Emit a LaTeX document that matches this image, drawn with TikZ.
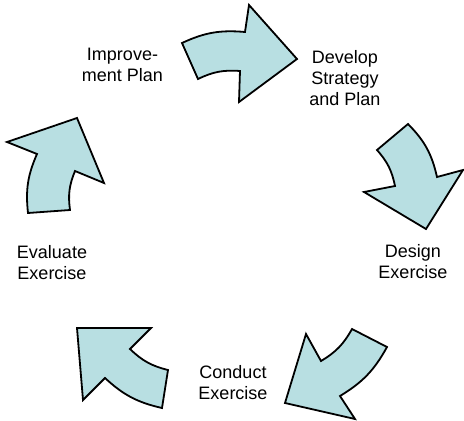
\documentclass[tikz,border=0pt]{standalone}
\usepackage{fontspec}
\setmainfont{Liberation Sans}
\definecolor{arrowfill}{RGB}{184,223,226}
\begin{document}
\begin{tikzpicture}[x=1pt,y=-1pt,
  arr/.style={draw=black,fill=arrowfill,line width=1.8pt,line join=miter},
  lbl/.style={font=\fontsize{18}{21}\selectfont,align=center,inner sep=0pt,anchor=north}]
\useasboundingbox (0,0) rectangle (464,421);
% arrows
\draw[arr] (182,43) to[bend left=15] (245,32) -- (249,5) -- (297,59) -- (239,102) -- (240,71) to[bend right=15] (198,79) -- cycle;
\draw[arr] (408,124) to[bend left=16] (437,177) -- (463,170) -- (426,229) -- (364,192) -- (395,186) to[bend right=15] (377,150) -- cycle;
\draw[arr] (387,347) to[bend left=15] (340,396) -- (355,419) -- (285,403) -- (306,334) -- (321,361) to[bend right=15] (352,329) -- cycle;
\draw[arr] (162,408) to[bend left=15] (105,378) -- (83,400) -- (77,328) -- (151,328) -- (130,349) to[bend right=15] (168,370) -- cycle;
\draw[arr] (28,213) to[bend left=15] (37,154) -- (7,142) -- (77,118) -- (104,183) -- (75,171) to[bend right=15] (70,210) -- cycle;
% labels
\node[lbl] (imp) at (122.5,48) {Improve-\\ment Plan};
\node[lbl] (dev) at (345,50) {Develop\\Strategy\\and Plan};
\node[lbl] (des) at (413,244) {Design\\Exercise};
\node[lbl] (con) at (233,365) {Conduct\\Exercise};
\node[lbl] (eva) at (52,245) {Evaluate\\Exercise};
\end{tikzpicture}
\end{document}
